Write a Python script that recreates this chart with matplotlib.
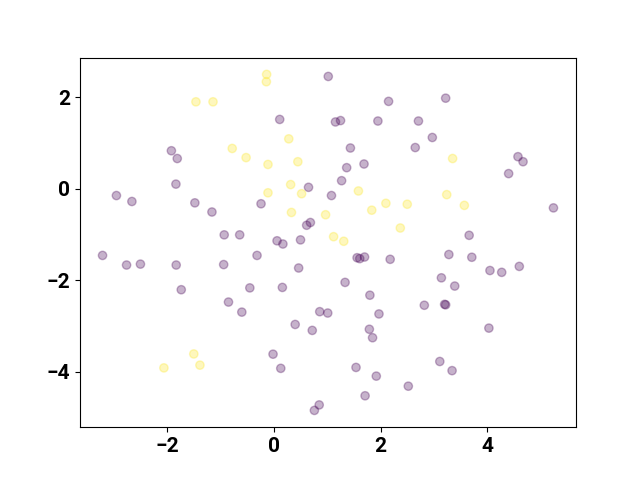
import matplotlib
matplotlib.use('Agg')
import matplotlib.pyplot as plt
import numpy as np

# class 1 (yellow) points
x_yellow = [-1.46, -1.14, -0.78, -0.52, -0.135, -0.14, 0.28, -0.11, 0.45, 0.315,
            -0.11, 0.52, 1.585, 2.10, 2.50, 0.33, 0.97, 1.835, 2.37, 1.12,
            1.31, 3.35, 3.24, 3.57, -1.50, -1.385, -2.06]
y_yellow = [1.90, 1.90, 0.88, 0.68, 2.50, 2.34, 1.09, 0.53, 0.59, 0.09,
            -0.09, -0.11, -0.05, -0.32, -0.34, -0.52, -0.57, -0.47, -0.86, -1.05,
            -1.15, 0.66, -0.13, -0.365, -3.615, -3.86, -3.92]

# class 0 (purple) points
x_purple = [-1.92, -1.81, -1.835, -2.95, -2.66, -1.48, -1.16, -0.93, -0.64, 1.02,
            2.15, 0.11, 1.155, 1.25, 1.95, 1.435, 1.365, 1.69, 1.27, 0.65,
            1.08, -0.24, 0.685, 0.615, 0.06, 0.17, 0.50, 3.22, 2.71, 2.97,
            2.65, 4.575, 4.67, 4.40, 5.24, 3.66, -3.21, -2.76, -2.50, -1.83,
            -0.94, -1.735, -0.45, -0.85, -0.60, -0.315, 1.56, 1.61, 1.70, 2.18,
            0.465, 1.335, 0.16, 1.80, 0.86, 1.01, 1.97, 0.40, 0.72, 1.79,
            1.85, -0.015, 0.13, 1.54, 1.92, 2.52, 1.71, 0.85, 0.76, 3.28,
            3.71, 4.05, 4.27, 4.60, 3.14, 3.39, 2.82, 3.20, 3.22, 4.03,
            3.11, 3.34]
y_purple = [0.83, 0.66, 0.10, -0.15, -0.28, -0.31, -0.51, -1.01, -1.01, 2.455,
            1.91, 1.515, 1.46, 1.49, 1.48, 0.89, 0.46, 0.54, 0.175, 0.03,
            -0.15, -0.33, -0.74, -0.80, -1.14, -1.21, -1.12, 1.98, 1.48, 1.12,
            0.90, 0.70, 0.59, 0.33, -0.42, -1.02, -1.46, -1.67, -1.65, -1.67,
            -1.66, -2.21, -2.17, -2.48, -2.70, -1.46, -1.51, -1.53, -1.495, -1.545,
            -1.735, -2.05, -2.16, -2.33, -2.69, -2.72, -2.74, -2.97, -3.10, -3.075,
            -3.26, -3.62, -3.93, -3.91, -4.10, -4.32, -4.53, -4.73, -4.85, -1.44,
            -1.50, -1.79, -1.83, -1.70, -1.95, -2.13, -2.55, -2.53, -2.54, -3.05,
            -3.78, -3.98]

x = np.array(x_purple + x_yellow)
y = np.array(y_purple + y_yellow)
labels = np.array([0] * len(x_purple) + [1] * len(x_yellow))

plt.rcParams['font.family'] = ['Roboto', 'DejaVu Sans']
plt.rcParams['font.weight'] = 'bold'

fig, ax = plt.subplots(figsize=(6.4, 4.8), dpi=100)
ax.scatter(x, y, c=labels, cmap='viridis', alpha=0.3)
ax.tick_params(labelsize=15)
for lab in ax.get_xticklabels() + ax.get_yticklabels():
    lab.set_fontweight('bold')

fig.savefig('out.png')
